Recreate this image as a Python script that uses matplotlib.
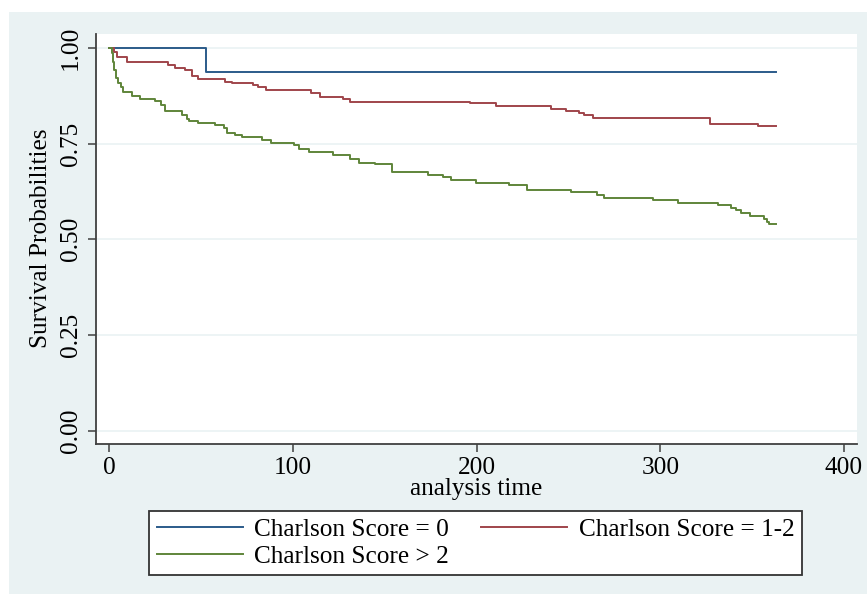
import matplotlib
matplotlib.use("Agg")
import matplotlib.pyplot as plt
from matplotlib.patches import Rectangle

plt.rcParams['font.family'] = ['Liberation Serif', 'DejaVu Serif']

# ---- data ----
t0 = [0, 52.5, 363]
s0 = [1.0, 0.9375, 0.9375]

t1 = [0, 2.7, 4.2, 9.6, 32.3, 35.9, 41.3, 44.9, 48.5, 63, 66.7, 78.4, 81.2, 85.3,
      110.1, 114.7, 127.5, 131, 196.7, 210.7, 240.6, 248.7, 256, 258.7, 263.2,
      327, 353.4, 363]
s1 = [1.0, 0.990, 0.975, 0.962, 0.955, 0.948, 0.942, 0.927, 0.918, 0.912, 0.908,
      0.903, 0.897, 0.890, 0.883, 0.873, 0.866, 0.859, 0.855, 0.848, 0.841, 0.835,
      0.831, 0.824, 0.816, 0.802, 0.795, 0.795]

t2 = [0, 1.45, 2.36, 2.9, 3.8, 5.1, 6.3, 7.4, 12.3, 16.8, 25, 28.1, 30.4, 39.5,
      42.2, 43.7, 48.5, 57.6, 62.5, 64.3, 68.5, 72.1, 83, 88.4, 100.5, 103.4,
      108.9, 121.9, 131, 136, 144.5, 154, 173.5, 182, 186.2, 199.8, 217.9, 227.3,
      251.4, 265.3, 269.5, 295.8, 309.9, 331.6, 338.3, 341.4, 344.1, 348.8, 356.4,
      357.9, 359.1, 363]
s2 = [1.0, 0.986, 0.964, 0.942, 0.921, 0.908, 0.899, 0.886, 0.874, 0.866, 0.862,
      0.851, 0.835, 0.825, 0.813, 0.810, 0.805, 0.798, 0.790, 0.778, 0.773, 0.766,
      0.759, 0.752, 0.746, 0.737, 0.729, 0.721, 0.709, 0.700, 0.696, 0.676, 0.669,
      0.662, 0.654, 0.647, 0.641, 0.630, 0.623, 0.617, 0.609, 0.602, 0.595, 0.589,
      0.582, 0.576, 0.569, 0.560, 0.554, 0.546, 0.539, 0.539]

labels = ["Charlson Score = 0", "Charlson Score = 1-2", "Charlson Score > 2"]
xticks = [0, 100, 200, 300, 400]
yticks = [0.00, 0.25, 0.50, 0.75, 1.00]
yticklabels = ["0.00", "0.25", "0.50", "0.75", "1.00"]

# ---- figure ----
W, H = 867, 594
fig = plt.figure(figsize=(W / 100, H / 100), dpi=100, facecolor='white')
bg = '#eaf2f3'
fig.patches.append(Rectangle((9 / W, 0), 1 - 9 / W, (H - 12) / H,
                             transform=fig.transFigure, facecolor=bg,
                             edgecolor='none', zorder=-10))

ax = fig.add_axes([96 / W, (H - 444) / H, (856.5 - 96) / W, (444 - 34) / H])
ax.set_zorder(1)
ax.set_facecolor('white')

c0, c1, c2 = '#2b5b8a', '#a0454b', '#5f853a'
l0, = ax.plot(t0, s0, drawstyle='steps-post', color=c0, lw=1.4)
l1, = ax.plot(t1, s1, drawstyle='steps-post', color=c1, lw=1.4)
l2, = ax.plot(t2, s2, drawstyle='steps-post', color=c2, lw=1.4)

ax.set_xlim(-7.1, 406.8)
ax.set_ylim(-0.0347, 1.0363)
ax.set_xticks(xticks)
ax.set_xticklabels([str(v) for v in xticks])
ax.set_yticks(yticks)
ax.set_yticklabels(yticklabels, rotation=90, va='center')
ax.grid(axis='y', color=bg, lw=1.2)
ax.set_axisbelow(True)

for side in ['top', 'right']:
    ax.spines[side].set_visible(False)
for side in ['left', 'bottom']:
    ax.spines[side].set_color('#404040')
    ax.spines[side].set_linewidth(1.3)

fs = 18.2
ax.tick_params(axis='both', length=6, width=1.1, color='#404040',
               labelsize=fs, pad=4)
ax.tick_params(axis='x', pad=3)

ax.set_xlabel("analysis time", fontsize=fs, labelpad=0)
fig.text(41 / W, 1 - 238 / H, "Survival Probabilities", rotation=90,
         ha='center', va='center', fontsize=fs)

leg = fig.legend([l0, l2, l1], [labels[0], labels[2], labels[1]], ncol=2,
                 loc='center', mode='expand',
                 bbox_to_anchor=(149 / W, (H - 575) / H, 653 / W, 64 / H),
                 fontsize=fs, frameon=True, fancybox=False, borderaxespad=0,
                 handlelength=3.4, handletextpad=0.45, labelspacing=0.15,
                 borderpad=0.3, columnspacing=1.2)
fr = leg.get_frame()
fr.set_edgecolor('#333333')
fr.set_linewidth(1.3)
fr.set_facecolor('white')
fr.set_alpha(1)

fig.savefig('out.png', dpi=100, facecolor=fig.get_facecolor())
